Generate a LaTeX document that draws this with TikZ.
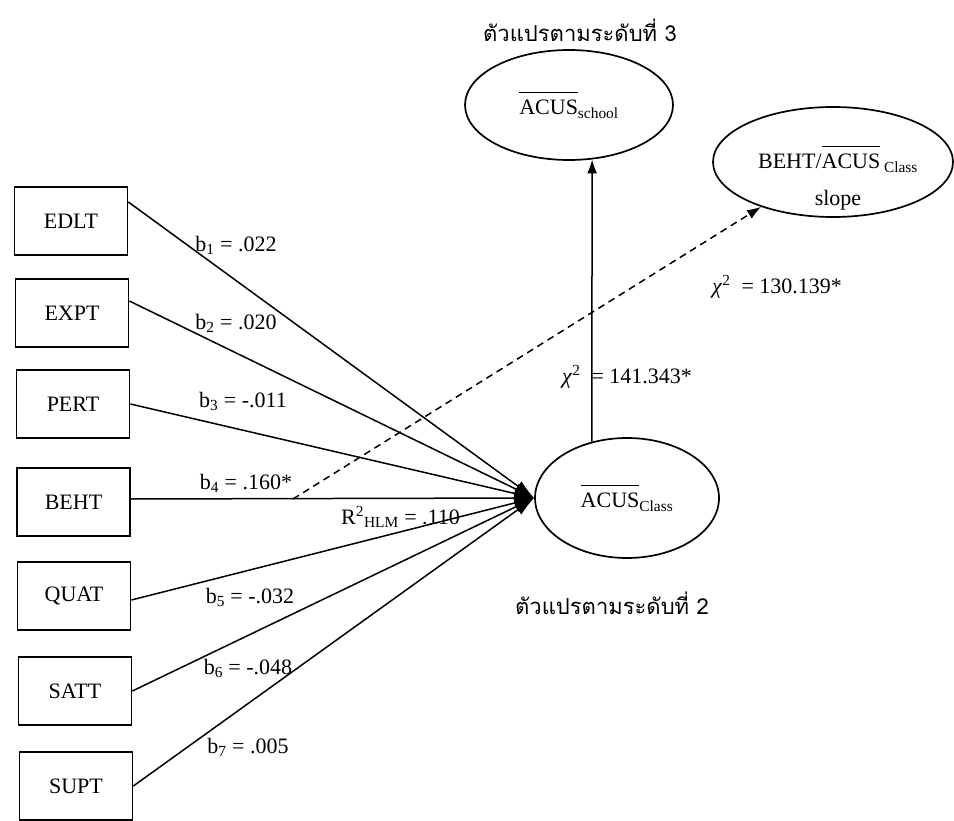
\documentclass[tikz,border=0pt]{standalone}
\usepackage{fontspec}
\setmainfont{Liberation Serif}
\newfontfamily\thaifont[Script=Thai]{Loma}
\usetikzlibrary{arrows.meta,shapes.geometric,calc}
\newcommand\ovl[1]{\vbox{\hrule height 1.4pt\kern 7pt\hbox{#1}}}
\begin{document}
\begin{tikzpicture}[x=1pt,y=-1pt,
  txt/.style={font=\fontsize{22}{26}\selectfont, inner sep=0pt},
  thai/.style={font=\thaifont\fontsize{22}{26}\selectfont, inner sep=0pt},
  varbox/.style={draw, line width=1.7pt, minimum width=113pt, minimum height=68pt, inner sep=0pt, font=\fontsize{22}{26}\selectfont},
  lvl/.style={draw, ellipse, line width=1.7pt, inner sep=0pt, font=\fontsize{22}{26}\selectfont},
  conn/.style={line width=1.5pt, -{Latex[length=20pt,width=12pt]}},
  link/.style={line width=1.5pt, -{Latex[length=14pt,width=10pt]}},
  dlink/.style={link, dash pattern=on 7pt off 5pt}
]
\useasboundingbox (0,0) rectangle (954,821);

% boxes
\node[varbox] (edlt) at (71,221) {EDLT};
\node[varbox] (expt) at (72,313) {EXPT};
\node[varbox] (pert) at (73,404) {PERT};
\node[varbox] (beht) at (73.5,502) {BEHT};
\node[varbox] (quat) at (74,596) {QUAT};
\node[varbox] (satt) at (75,691) {SATT};
\node[varbox] (supt) at (76,786) {SUPT};

% ellipses
\node[lvl, minimum width=208pt, minimum height=110pt] (school) at (569,105) {\ovl{ACUS}\textsubscript{school}};
\node[lvl, minimum width=184pt, minimum height=120pt] (class) at (627,498) {\ovl{ACUS}\textsubscript{Class}};
\node[lvl, minimum width=240pt, minimum height=110pt] (slope) at (833,162) {};
\node[txt, align=center, font=\fontsize{22}{37}\selectfont] (slopetxt) at (838,178) {BEHT/\ovl{ACUS}\,\textsubscript{Class}\\slope};

% Thai titles
\node[thai] (t3) at (580,30) {ตัวแปรตามระดับที่ 3};
\node[thai] (t2) at (612,603) {ตัวแปรตามระดับที่ 2};

% connectors
\draw[conn] ([yshift=19pt]edlt.east) -- (class.west);
\draw[conn] ([yshift=12pt]expt.east) -- (class.west);
\draw[conn] (pert.east) -- (class.west);
\draw[conn] ([yshift=3pt]beht.east) -- (class.west);
\draw[conn] ([yshift=-4pt]quat.east) -- (class.west);
\draw[conn] (satt.east) -- (class.west);
\draw[conn] (supt.east) -- (class.west);

\draw[link] (class.122) -- (school.293);
\coordinate (d0) at (293,499);
\draw[dlink] (d0) -- (slope);

% labels
\node[txt] (l1) at (236,245) {b\textsubscript{1} = .022};
\node[txt] (l2) at (236,323) {b\textsubscript{2} = .020};
\node[txt] (l3) at (243,401) {b\textsubscript{3} = -.011};
\node[txt] (l4) at (246,483) {b\textsubscript{4} = .160*};
\node[txt, anchor=west] (r2) at (341,517) {R\textsuperscript{2}\textsubscript{HLM} = .110};
\node[txt] (l5) at (250,597) {b\textsubscript{5} = -.032};
\node[txt] (l6) at (248,668) {b\textsubscript{6} = -.048};
\node[txt] (l7) at (248,747) {b\textsubscript{7} = .005};
\node[txt, anchor=west] (c1) at (562,377) {\textit{χ}\textsuperscript{2}\hspace{11pt}= 141.343*};
\node[txt, anchor=west] (c2) at (712,287) {\textit{χ}\textsuperscript{2}\hspace{11pt}= 130.139*};
\end{tikzpicture}
\end{document}
